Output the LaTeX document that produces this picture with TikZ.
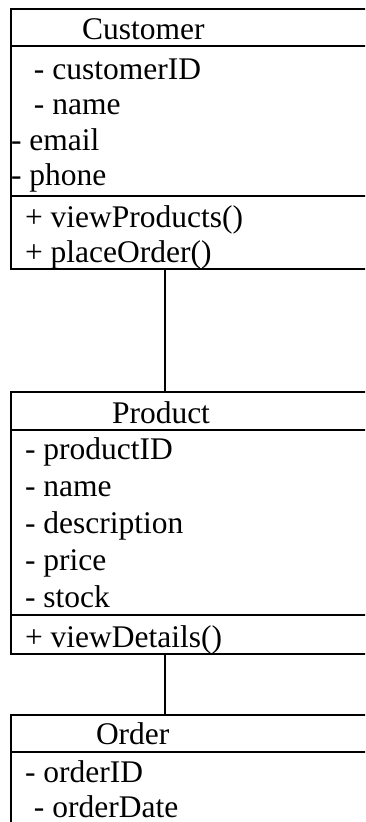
\documentclass[tikz,border=0pt]{standalone}
\usepackage{fontspec}
\setmainfont{Liberation Serif}
\begin{document}
\begin{tikzpicture}[x=1pt,y=-1pt,
  classbox/.style={draw,line width=2pt,rectangle,anchor=north west,minimum width=400pt,inner sep=0pt,outer sep=0pt},
  rule/.style={line width=2pt},
  link/.style={line width=2pt},
  txt/.style={anchor=base west,inner sep=0pt,outer sep=0pt,font=\fontsize{31.5}{36}\selectfont}]
\useasboundingbox (0,0) rectangle (365,822);
\clip (0,0) rectangle (365,822);
\fill[white] (0,0) rectangle (365,822);
% boxes
\node[classbox,minimum height=260pt] (cust) at (11,9) {};
\node[classbox,minimum height=262pt] (prod) at (11,392) {};
\node[classbox,minimum height=200pt] (ord) at (11,715) {};
% dividers
\draw[rule] (11,46) -- (411,46);
\draw[rule] (11,196) -- (411,196);
\draw[rule] (11,430) -- (411,430);
\draw[rule] (11,615) -- (411,615);
\draw[rule] (11,752) -- (411,752);
% connectors
\coordinate (c1) at (165,0);
\draw[link] (cust.south -| c1) -- (prod.north -| c1);
\draw[link] (prod.south -| c1) -- (ord.north -| c1);
% Customer
\node[txt] (t1) at (82,39) {Customer};
\node[txt] (a1) at (34,79) {- customerID};
\node[txt] (a2) at (34,114) {- name};
\node[txt] (a3) at (11,150) {- email};
\node[txt] (a4) at (11,185) {- phone};
\node[txt] (m1) at (25,227) {+ viewProducts()};
\node[txt] (m2) at (25,262) {+ placeOrder()};
% Product
\node[txt] (t2) at (112,423) {Product};
\node[txt] (b1) at (25,459) {- productID};
\node[txt] (b2) at (25,496) {- name};
\node[txt] (b3) at (25,533) {- description};
\node[txt] (b4) at (25,570) {- price};
\node[txt] (b5) at (25,607) {- stock};
\node[txt] (n1) at (25,647) {+ viewDetails()};
% Order
\node[txt] (t3) at (96,744) {Order};
\node[txt] (d1) at (25,782) {- orderID};
\node[txt] (d2) at (34,817) {- orderDate};
\end{tikzpicture}
\end{document}
